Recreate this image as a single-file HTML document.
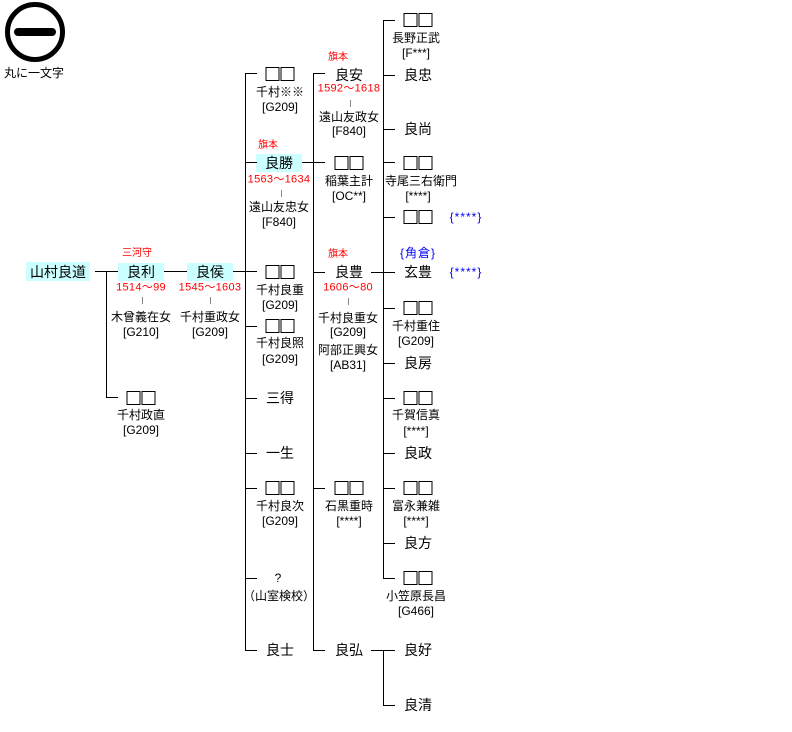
<!DOCTYPE html>
<html><head><meta charset="utf-8">
<style>
html,body{margin:0;padding:0;background:#fff;}
body{width:792px;height:732px;position:relative;overflow:hidden;font-family:"Liberation Sans","Noto Sans CJK JP",sans-serif;color:#000;}
.t{position:absolute;transform:translate(-50%,-50%);white-space:nowrap;line-height:1;}
.n{font-size:14px;}
.s{font-size:12px;}
.r{font-size:11px;color:#f00;letter-spacing:0.3px;}
.rh{font-size:10px;color:#f00;}
.b{font-size:12px;color:#00f;letter-spacing:1px;}
.h{position:absolute;height:1px;background:#000;}
.v{position:absolute;width:1px;background:#000;}
.g{position:absolute;width:1px;background:#888;height:7px;}
.hl{position:absolute;background:#ccffff;}
.bx{position:absolute;transform:translate(-50%,-50%);width:29px;height:14px;}
.bx i{position:absolute;top:0;width:12px;height:12px;border:1px solid #000;}
.bx i:first-child{left:0}.bx i:last-child{left:15px}
</style></head><body>
<div style="position:absolute;left:5px;top:2px;width:50px;height:50px;border:5px solid #000;border-radius:50%;"></div>
<div style="position:absolute;left:14px;top:28px;width:42px;height:8px;background:#000;border-radius:4px;"></div>
<div class="t s" style="left:34px;top:73px;">丸に一文字</div>

<div class="hl" style="left:26px;top:262px;width:64px;height:19px;"></div>
<div class="hl" style="left:118px;top:263px;width:46px;height:18px;"></div>
<div class="hl" style="left:187px;top:263px;width:46px;height:18px;"></div>
<div class="hl" style="left:256px;top:154px;width:46px;height:18px;"></div>

<div class="h" style="left:95px;top:271px;width:23px;"></div>
<div class="v" style="left:106px;top:271px;height:127px;"></div>
<div class="h" style="left:106px;top:397px;width:12px;"></div>
<div class="h" style="left:164px;top:271px;width:23px;"></div>
<div class="h" style="left:233px;top:271px;width:24px;"></div>

<div class="v" style="left:245px;top:73px;height:578px;"></div>
<div class="h" style="left:245px;top:73px;width:12px;"></div>
<div class="h" style="left:245px;top:162px;width:12px;"></div>
<div class="h" style="left:245px;top:326px;width:12px;"></div>
<div class="h" style="left:245px;top:398px;width:12px;"></div>
<div class="h" style="left:245px;top:453px;width:12px;"></div>
<div class="h" style="left:245px;top:488px;width:12px;"></div>
<div class="h" style="left:245px;top:578px;width:12px;"></div>
<div class="h" style="left:245px;top:650px;width:12px;"></div>

<div class="v" style="left:313px;top:73px;height:578px;"></div>
<div class="h" style="left:313px;top:73px;width:12px;"></div>
<div class="h" style="left:302px;top:162px;width:23px;"></div>
<div class="h" style="left:313px;top:272px;width:12px;"></div>
<div class="h" style="left:313px;top:488px;width:12px;"></div>
<div class="h" style="left:313px;top:650px;width:12px;"></div>

<div class="v" style="left:383px;top:20px;height:559px;"></div>
<div class="h" style="left:383px;top:20px;width:12px;"></div>
<div class="h" style="left:383px;top:75px;width:12px;"></div>
<div class="h" style="left:383px;top:129px;width:12px;"></div>
<div class="h" style="left:383px;top:162px;width:12px;"></div>
<div class="h" style="left:383px;top:217px;width:12px;"></div>
<div class="h" style="left:371px;top:272px;width:24px;"></div>
<div class="h" style="left:383px;top:308px;width:12px;"></div>
<div class="h" style="left:383px;top:363px;width:12px;"></div>
<div class="h" style="left:383px;top:398px;width:12px;"></div>
<div class="h" style="left:383px;top:453px;width:12px;"></div>
<div class="h" style="left:383px;top:488px;width:12px;"></div>
<div class="h" style="left:383px;top:543px;width:12px;"></div>
<div class="h" style="left:383px;top:578px;width:12px;"></div>
<div class="h" style="left:371px;top:650px;width:24px;"></div>
<div class="v" style="left:383px;top:650px;height:56px;"></div>
<div class="h" style="left:383px;top:705px;width:12px;"></div>

<div class="t n" style="left:58px;top:272px;">山村良道</div>
<div class="t rh" style="left:137px;top:254px;">三河守</div>
<div class="t n" style="left:141px;top:272px;">良利</div>
<div class="t r" style="left:141px;top:288px;">1514～99</div>
<div class="g" style="left:142px;top:297px;"></div>
<div class="t s" style="left:141px;top:317px;">木曾義在女</div>
<div class="t s" style="left:141px;top:332px;">[G210]</div>
<div class="bx" style="left:141px;top:398px;"><i></i><i></i></div>
<div class="t s" style="left:141px;top:415px;">千村政直</div>
<div class="t s" style="left:141px;top:430px;">[G209]</div>

<div class="t n" style="left:210px;top:272px;">良侯</div>
<div class="t r" style="left:210px;top:288px;">1545～1603</div>
<div class="g" style="left:210px;top:297px;"></div>
<div class="t s" style="left:210px;top:317px;">千村重政女</div>
<div class="t s" style="left:210px;top:332px;">[G209]</div>

<div class="bx" style="left:280px;top:74px;"><i></i><i></i></div>
<div class="t s" style="left:280px;top:92px;">千村※※</div>
<div class="t s" style="left:280px;top:107px;">[G209]</div>
<div class="t rh" style="left:268px;top:146px;">旗本</div>
<div class="t n" style="left:279px;top:163px;">良勝</div>
<div class="t r" style="left:279px;top:180px;">1563～1634</div>
<div class="g" style="left:281px;top:190px;"></div>
<div class="t s" style="left:279px;top:207px;">遠山友忠女</div>
<div class="t s" style="left:279px;top:222px;">[F840]</div>
<div class="bx" style="left:280px;top:272px;"><i></i><i></i></div>
<div class="t s" style="left:280px;top:290px;">千村良重</div>
<div class="t s" style="left:280px;top:305px;">[G209]</div>
<div class="bx" style="left:280px;top:326px;"><i></i><i></i></div>
<div class="t s" style="left:280px;top:343px;">千村良照</div>
<div class="t s" style="left:280px;top:359px;">[G209]</div>
<div class="t n" style="left:280px;top:398px;">三得</div>
<div class="t n" style="left:280px;top:453px;">一生</div>
<div class="bx" style="left:280px;top:488px;"><i></i><i></i></div>
<div class="t s" style="left:280px;top:506px;">千村良次</div>
<div class="t s" style="left:280px;top:521px;">[G209]</div>
<div class="t s" style="left:278px;top:578px;">?</div>
<div class="t s" style="left:279px;top:596px;">（山室検校）</div>
<div class="t n" style="left:280px;top:650px;">良士</div>

<div class="t rh" style="left:338px;top:58px;">旗本</div>
<div class="t n" style="left:349px;top:75px;">良安</div>
<div class="t r" style="left:349px;top:89px;">1592～1618</div>
<div class="g" style="left:350px;top:100px;"></div>
<div class="t s" style="left:349px;top:117px;">遠山友政女</div>
<div class="t s" style="left:349px;top:131px;">[F840]</div>
<div class="bx" style="left:349px;top:163px;"><i></i><i></i></div>
<div class="t s" style="left:349px;top:181px;">稲葉主計</div>
<div class="t s" style="left:349px;top:196px;">[OC**]</div>
<div class="t rh" style="left:338px;top:255px;">旗本</div>
<div class="t n" style="left:349px;top:272px;">良豊</div>
<div class="t r" style="left:348px;top:288px;">1606～80</div>
<div class="g" style="left:348px;top:298px;"></div>
<div class="t s" style="left:348px;top:318px;">千村良重女</div>
<div class="t s" style="left:348px;top:332px;">[G209]</div>
<div class="t s" style="left:348px;top:350px;">阿部正興女</div>
<div class="t s" style="left:348px;top:365px;">[AB31]</div>
<div class="bx" style="left:349px;top:488px;"><i></i><i></i></div>
<div class="t s" style="left:349px;top:506px;">石黒重時</div>
<div class="t s" style="left:349px;top:521px;">[****]</div>
<div class="t n" style="left:349px;top:650px;">良弘</div>

<div class="bx" style="left:418px;top:20px;"><i></i><i></i></div>
<div class="t s" style="left:416px;top:38px;">長野正武</div>
<div class="t s" style="left:416px;top:53px;">[F***]</div>
<div class="t n" style="left:418px;top:75px;">良忠</div>
<div class="t n" style="left:418px;top:129px;">良尚</div>
<div class="bx" style="left:418px;top:163px;"><i></i><i></i></div>
<div class="t s" style="left:421px;top:181px;">寺尾三右衛門</div>
<div class="t s" style="left:418px;top:196px;">[****]</div>
<div class="bx" style="left:418px;top:217px;"><i></i><i></i></div>
<div class="t b" style="left:466px;top:217px;">{****}</div>
<div class="t b" style="left:418px;top:253px;">{角倉}</div>
<div class="t n" style="left:418px;top:272px;">玄豊</div>
<div class="t b" style="left:466px;top:272px;">{****}</div>
<div class="bx" style="left:418px;top:308px;"><i></i><i></i></div>
<div class="t s" style="left:416px;top:326px;">千村重住</div>
<div class="t s" style="left:416px;top:341px;">[G209]</div>
<div class="t n" style="left:418px;top:363px;">良房</div>
<div class="bx" style="left:418px;top:398px;"><i></i><i></i></div>
<div class="t s" style="left:416px;top:415px;">千賀信真</div>
<div class="t s" style="left:416px;top:431px;">[****]</div>
<div class="t n" style="left:418px;top:453px;">良政</div>
<div class="bx" style="left:418px;top:488px;"><i></i><i></i></div>
<div class="t s" style="left:416px;top:506px;">富永兼雑</div>
<div class="t s" style="left:416px;top:521px;">[****]</div>
<div class="t n" style="left:418px;top:543px;">良方</div>
<div class="bx" style="left:418px;top:578px;"><i></i><i></i></div>
<div class="t s" style="left:416px;top:596px;">小笠原長昌</div>
<div class="t s" style="left:416px;top:611px;">[G466]</div>
<div class="t n" style="left:418px;top:650px;">良好</div>
<div class="t n" style="left:418px;top:705px;">良清</div>
</body></html>
